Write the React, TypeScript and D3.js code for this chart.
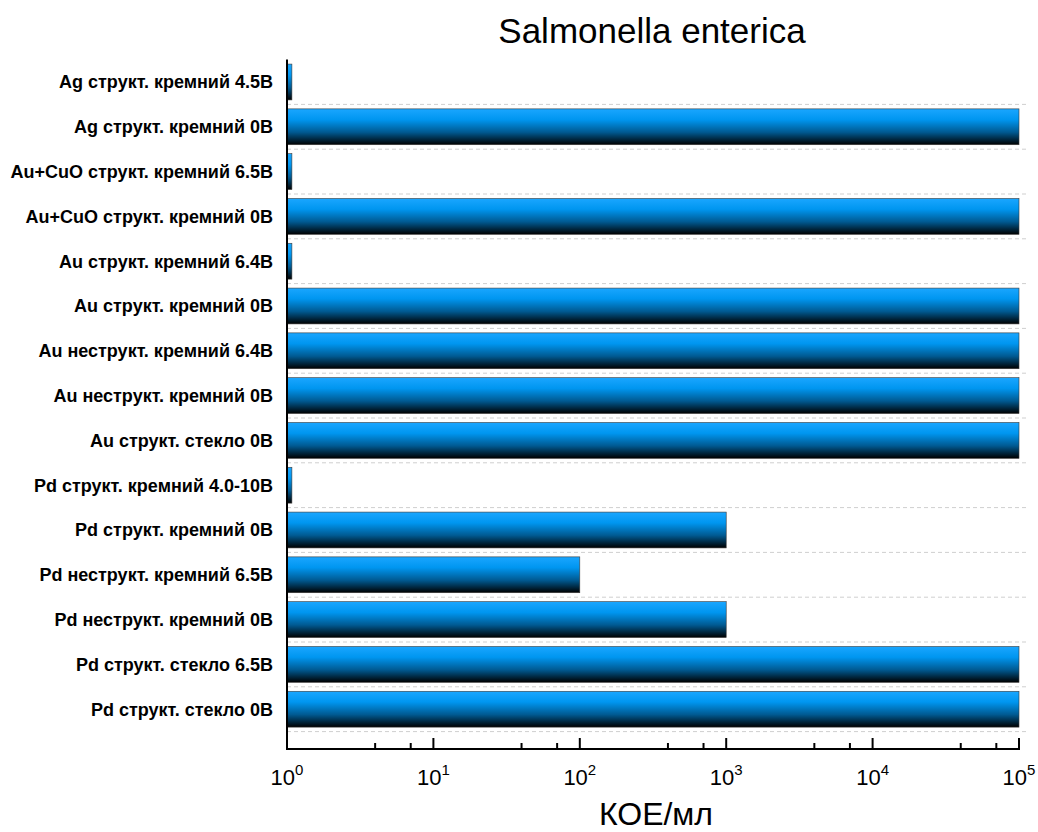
import React from "react";
import * as d3 from "d3";

const categories = [
  "Ag структ. кремний 4.5В",
  "Ag структ. кремний 0В",
  "Au+CuO структ. кремний 6.5В",
  "Au+CuO структ. кремний 0В",
  "Au структ. кремний 6.4В",
  "Au структ. кремний 0В",
  "Au неструкт. кремний 6.4В",
  "Au неструкт. кремний 0В",
  "Au структ. стекло 0В",
  "Pd структ. кремний 4.0-10В",
  "Pd структ. кремний 0В",
  "Pd неструкт. кремний 6.5В",
  "Pd неструкт. кремний 0В",
  "Pd структ. стекло 6.5В",
  "Pd структ. стекло 0В",
];
const values = [1.08, 1e5, 1.08, 1e5, 1.08, 1e5, 1e5, 1e5, 1e5, 1.08, 1000, 100, 1000, 1e5, 1e5];
const majorTicks = [1, 10, 100, 1000, 10000, 100000];
const minorTicks = [4, 7, 40, 70, 400, 700, 4000, 7000, 40000, 70000];
const superscripts = ["0", "1", "2", "3", "4", "5"];

const W = 1038;
const H = 832;
const left = 287;
const right = 1019;
const top = 59.6;
const bandBottom = 731.6;
const axisY = 749;
const font = "Liberation Sans, Arial, sans-serif";

export default function App() {
  const x = d3.scaleLog().domain([1, 1e5]).range([left, right]);
  const y = d3.scaleBand<string>().domain(categories).range([top, bandBottom]).paddingInner(0.2).paddingOuter(0.1);
  const step = y.step();

  return (
    <svg width={W} height={H} style={{ position: "absolute", left: 0, top: 0, background: "#fff" }}>
      <defs>
        <linearGradient id="barGrad" x1="0" y1="0" x2="0" y2="1">
          <stop offset="0%" stopColor="#1aa6ff" />
          <stop offset="30%" stopColor="#0096f0" />
          <stop offset="65%" stopColor="#005a92" />
          <stop offset="100%" stopColor="#000000" />
        </linearGradient>
      </defs>
      <text x={652} y={43} textAnchor="middle" fontFamily={font} fontSize={35} fill="#000">
        Salmonella enterica
      </text>
      {categories.map((c) => {
        const yb = (y(c) as number) - (step * 0.2) / 2 + step;
        return (
          <line key={"g" + c} x1={left} x2={1027} y1={yb} y2={yb} stroke="#cfcfcf" strokeWidth={1} strokeDasharray="4 3" />
        );
      })}
      {categories.map((c, i) => (
        <g key={c}>
          <rect
            x={x(1)}
            y={y(c) as number}
            width={x(values[i]) - x(1)}
            height={y.bandwidth()}
            fill="url(#barGrad)"
            stroke="#3a3a3a"
            strokeWidth={0.6}
          />
          <text
            x={273}
            y={(y(c) as number) + y.bandwidth() / 2}
            dy="0.35em"
            textAnchor="end"
            fontFamily={font}
            fontWeight="bold"
            fontSize={18}
            fill="#000"
          >
            {c}
          </text>
        </g>
      ))}
      <line x1={left} x2={left} y1={top} y2={axisY + 1} stroke="#000" strokeWidth={2} />
      <line x1={left - 1} x2={right + 1} y1={axisY} y2={axisY} stroke="#000" strokeWidth={2} />
      {majorTicks.map((t, i) => (
        <g key={"M" + t}>
          <line x1={x(t)} x2={x(t)} y1={axisY} y2={axisY - 11} stroke="#000" strokeWidth={2} />
          <text x={x(t)} y={785} textAnchor="middle" fontFamily={font} fontSize={22} fill="#000">
            10
            <tspan dy={-10} fontSize={15}>
              {superscripts[i]}
            </tspan>
          </text>
        </g>
      ))}
      {minorTicks.map((t) => (
        <line key={"m" + t} x1={x(t)} x2={x(t)} y1={axisY} y2={axisY - 6} stroke="#000" strokeWidth={2} />
      ))}
      <text x={656} y={825} textAnchor="middle" fontFamily={font} fontSize={32} fill="#000">
        КОЕ/мл
      </text>
    </svg>
  );
}
